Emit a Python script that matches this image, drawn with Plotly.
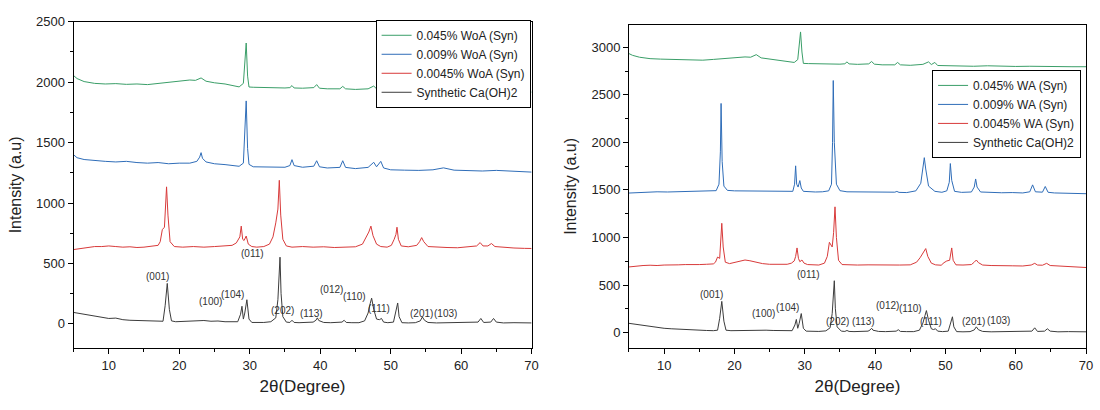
import plotly.graph_objects as go

# ---------------- LEFT PANEL (WoA) ----------------
L_black_x = [5, 6, 7, 8, 9, 10, 11, 12, 13, 14, 15, 16, 17, 17.7, 18.0, 18.3, 18.6, 18.9, 19.5, 20.5, 21.5, 22.5, 23.5,
             24.5, 25.5, 26.5, 27.5, 28.3, 28.7, 28.9, 29.1, 29.3, 29.6, 29.9, 30.3, 31, 32, 33, 33.7, 34.0, 34.15, 34.3,
             34.45, 34.7, 35.2, 35.7, 36.0, 36.3, 37, 38, 39, 39.4, 39.6, 39.8, 40.5, 41.5, 42.5, 43.1, 43.4, 43.7, 44.5,
             45.5, 46.3, 46.8, 47.1, 47.3, 47.6, 48.0, 48.4, 48.7, 49.0, 49.6, 50.4, 50.8, 51.0, 51.2, 51.6, 52.5, 53.5,
             54.2, 54.5, 54.8, 55.3, 56.5, 58, 59.5, 61, 62.4, 62.8, 63.2, 64.2, 64.6, 65.0, 66, 67.5, 69, 70]
L_black_y = [95, 85, 70, 60, 55, 45, 48, 35, 30, 28, 25, 20, 18, 22, 150, 335, 120, 25, 18, 20, 22, 25, 28,
             22, 24, 18, 15, 18, 80, 146, 40, 90, 200, 40, 12, 10, 12, 18, 50, 200, 400, 552,
             250, 60, 15, 12, 30, 12, 10, 12, 15, 30, 50, 28, 12, 10, 10, 15, 30, 12, 10,
             10, 25, 90, 170, 213, 120, 40, 35, 45, 15, 10, 15, 110, 173, 60, 10, 8, 10,
             25, 57, 30, 12, 8, 10, 8, 8, 15, 45, 12, 15, 45, 15, 8, 10, 8, 8]

L_red_x = [5, 6, 7, 8, 9, 10, 11, 12, 13, 14, 15, 16, 17, 17.3, 17.6, 17.9, 18.05, 18.2, 18.4, 18.7, 19.3, 20.5, 22,
           23.5, 25, 26.5, 27.5, 28.1, 28.4, 28.6, 28.8, 29.0, 29.2, 29.5, 29.8, 30.3, 31, 32, 32.8, 33.3, 33.7, 34.0,
           34.2, 34.4, 34.7, 35.2, 36, 37.5, 39, 40.5, 42, 43.5, 45, 46.0, 46.6, 46.9, 47.2, 47.5, 48.0, 48.6, 49.5,
           50.1, 50.5, 50.75, 50.9, 51.1, 51.5, 52.5, 53.7, 54.1, 54.4, 54.7, 55.3, 56.5, 58, 59.5, 61, 62.2, 62.7,
           63.1, 63.8, 64.3, 64.8, 66, 67.5, 69, 70]
L_red_y = [615, 625, 630, 640, 640, 645, 640, 635, 638, 632, 635, 640, 650, 680, 780, 800, 950, 1134, 900, 680, 640, 635, 640,
           635, 640, 645, 650, 670, 700, 720, 809, 700, 690, 727, 660, 640, 635, 640, 660, 720, 836, 950,
           1188, 900, 700, 645, 635, 640, 635, 638, 632, 635, 638, 660, 730, 760, 809, 730, 660, 640, 635,
           650, 700, 740, 800, 700, 645, 638, 650, 680, 714, 680, 640, 635, 632, 630, 635, 645, 673,
           645, 645, 665, 640, 632, 628, 625, 624]

L_blue_x = [5, 5.5, 6.5, 8, 9.5, 11, 12.5, 14, 15.5, 17, 18.5, 20, 21.5, 22.5, 22.9, 23.1, 23.3, 23.8, 25, 26.5, 27.5,
            28.5, 29.1, 29.3, 29.5, 29.7, 29.9, 30.5, 32, 33.5, 35, 35.7, 36.0, 36.3, 37.5, 39.1, 39.5, 39.9, 41, 42.8,
            43.2, 43.6, 45, 46.8, 47.3, 47.6, 48.0, 48.3, 48.6, 49.0, 50, 52, 54, 56, 57.5, 59, 61, 63, 65, 67, 69, 70]
L_blue_y = [1400, 1375, 1360, 1350, 1345, 1340, 1345, 1335, 1330, 1335, 1325, 1330, 1330, 1345, 1380, 1417, 1370, 1340, 1325, 1318, 1310,
            1304, 1330, 1600, 1845, 1450, 1320, 1300, 1298, 1296, 1296, 1310, 1359, 1310, 1296, 1305, 1350, 1300, 1290, 1295,
            1350, 1295, 1285, 1295, 1320, 1337, 1300, 1320, 1345, 1290, 1275, 1272, 1270, 1275, 1291, 1272, 1268, 1265, 1270, 1262, 1258, 1256]

L_green_x = [5, 5.5, 6.5, 8, 9.5, 11, 12.5, 14, 15.5, 17, 18.5, 19.5, 20.5, 21.5, 22.3, 23.1, 23.8, 25, 26.5, 27.5, 28.5,
             29.1, 29.3, 29.5, 29.7, 29.9, 30.5, 32, 33.5, 35, 35.7, 36.0, 36.3, 37.5, 39.1, 39.5, 39.9, 41, 42.8, 43.2,
             43.6, 45, 46.8, 47.3, 47.6, 48.0, 48.3, 48.6, 49.0, 50, 52, 54, 56, 58, 60, 62, 64, 66, 68, 70]
L_green_y = [2055, 2030, 2005, 1990, 1985, 1988, 1982, 1985, 1980, 1990, 1995, 2002, 2008, 2018, 2015, 2035, 2008, 1995, 1985, 1970, 1961,
             1990, 2150, 2324, 2050, 1960, 1958, 1955, 1950, 1952, 1955, 1972, 1952, 1950, 1955, 1980, 1950, 1945, 1945, 1965,
             1945, 1940, 1945, 1960, 1968, 1945, 1955, 1965, 1935, 1930, 1928, 1925, 1928, 1925, 1922, 1925, 1920, 1922, 1918, 1918]

L_names = ["0.045% WoA (Syn)", "0.009% WoA (Syn)", "0.0045% WoA (Syn)", "Synthetic Ca(OH)2"]

L_labels = ["(001)", "(100)", "(104)", "(011)", "(202)", "(113)", "(012)", "(110)", "(111)", "(201)", "(103)"]
L_label_x = [16.9, 24.4, 27.5, 30.4, 34.7, 38.8, 41.6, 44.8, 48.4, 54.4, 57.8]
L_label_y = [390, 187, 243, 584, 113, 90, 284, 227, 130, 90, 90]

# ---------------- RIGHT PANEL (WA) ----------------
R_black_x = [5, 6, 7, 8, 9, 10, 11, 12, 13, 14, 15, 16, 17, 17.6, 17.9, 18.2, 18.5, 18.8, 19.5, 20.5, 21.5, 22.5, 23.5,
             24.5, 25.5, 26.5, 27.5, 28.2, 28.6, 28.8, 29.0, 29.2, 29.5, 29.8, 30.2, 31, 32, 33, 33.6, 33.9, 34.05, 34.2,
             34.35, 34.6, 35.2, 35.7, 36.0, 36.3, 37, 38, 39, 39.3, 39.5, 39.7, 40.5, 41.5, 42.5, 43.0, 43.3, 43.6, 44.5,
             45.5, 46.3, 46.8, 47.1, 47.3, 47.6, 48.0, 48.3, 48.6, 48.9, 49.6, 50.4, 50.8, 51.0, 51.2, 51.6, 52.5, 53.5,
             54.1, 54.4, 54.7, 55.3, 56.5, 58, 59.5, 61, 62.3, 62.7, 63.1, 64.1, 64.5, 64.9, 66, 67.5, 69, 70]
R_black_y = [97, 85, 75, 65, 55, 45, 40, 35, 32, 28, 25, 22, 20, 25, 150, 328, 120, 25, 20, 22, 25, 28, 30,
             25, 22, 20, 18, 20, 80, 138, 45, 95, 200, 45, 15, 12, 12, 18, 50, 200, 400, 545,
             250, 60, 15, 12, 22, 12, 10, 12, 15, 28, 45, 25, 12, 10, 10, 15, 30, 12, 10,
             10, 25, 100, 180, 231, 130, 40, 32, 40, 15, 10, 15, 110, 166, 60, 10, 8, 10,
             28, 60, 30, 12, 8, 10, 8, 8, 15, 50, 12, 15, 40, 15, 8, 10, 8, 8]

R_red_x = [5, 6, 7, 8, 9, 10, 11, 12, 13, 14, 15, 16, 17, 17.3, 17.6, 17.9, 18.05, 18.2, 18.4, 18.7, 19.3, 20.2, 21.0,
           21.5, 22.2, 23.0, 24, 25, 26.5, 27.5, 28.1, 28.5, 28.7, 28.9, 29.1, 29.3, 29.6, 29.9, 30.4, 31, 32, 32.8,
           33.2, 33.5, 33.9, 34.1, 34.3, 34.5, 34.8, 35.3, 36, 37.5, 39, 40.5, 42, 43.5, 45, 45.9, 46.4, 46.8, 47.2,
           47.5, 48.0, 48.6, 49.4, 49.8, 50.2, 50.6, 50.9, 51.1, 51.5, 52.5, 53.7, 54.1, 54.4, 54.7, 55.3, 56.5, 58,
           59.5, 61, 62.2, 62.7, 63.1, 63.8, 64.4, 64.9, 66, 67.5, 69, 70]
R_red_y = [690, 700, 705, 708, 705, 710, 708, 712, 715, 712, 715, 718, 722, 740, 794, 780, 950, 1149, 900, 740, 725, 740, 758,
           763, 755, 740, 725, 718, 715, 718, 730, 753, 800, 890, 780, 745, 763, 730, 715, 712, 710, 730,
           800, 949, 900, 1050, 1322, 1000, 760, 715, 712, 710, 712, 710, 708, 710, 712, 740, 787, 830, 883,
           800, 730, 712, 708, 735, 753, 760, 890, 760, 712, 710, 715, 740, 763, 735, 710, 705, 700,
           702, 700, 710, 728, 710, 708, 728, 705, 700, 695, 690, 684]

R_blue_x = [5, 6, 7.5, 9, 10.5, 12, 13.5, 15, 16.5, 17.4, 17.8, 18.0, 18.1, 18.25, 18.5, 19, 20, 21.5, 23, 24.5, 26, 27.5,
            28.3, 28.55, 28.7, 28.85, 29.05, 29.3, 29.5, 29.8, 30.5, 31.5, 32.5, 33.4, 33.8, 33.95, 34.05, 34.2, 34.5, 35,
            36, 37.5, 39, 40.5, 42, 42.8, 43.1, 43.4, 44.5, 45.8, 46.5, 46.85, 47.0, 47.2, 47.6, 48.5, 49.5, 50.2,
            50.55, 50.7, 50.9, 51.3, 52.3, 53.7, 54.1, 54.3, 54.5, 55, 56.5, 58, 59.5, 61, 62.0, 62.4, 62.8, 63.8, 64.2,
            64.6, 65.5, 67, 68.5, 70]
R_blue_y = [1467, 1470, 1478, 1480, 1478, 1482, 1486, 1484, 1488, 1492, 1560, 1900, 2409, 1800, 1540, 1495, 1490, 1488, 1492, 1485, 1484, 1480,
            1485, 1560, 1753, 1560, 1530, 1598, 1520, 1485, 1480, 1478, 1480, 1490, 1560, 2000, 2650, 2000, 1560, 1492,
            1480, 1478, 1475, 1478, 1474, 1476, 1484, 1474, 1472, 1490, 1570, 1740, 1839, 1720, 1540, 1485, 1475, 1490,
            1580, 1777, 1600, 1485, 1474, 1478, 1530, 1615, 1530, 1478, 1472, 1470, 1472, 1468, 1480, 1553, 1480, 1476, 1536,
            1475, 1468, 1465, 1462, 1460]

R_green_x = [5, 5.5, 6.5, 8, 9.5, 11, 12.5, 14, 15.5, 17, 18.5, 19.5, 20.5, 21.5, 22.3, 23.1, 23.8, 25, 26.5, 27.5, 28.5,
             29.0, 29.2, 29.4, 29.6, 29.8, 30.5, 32, 33.5, 35, 35.7, 36.0, 36.3, 37.5, 39.1, 39.5, 39.9, 41, 42.8, 43.2,
             43.6, 45, 46.8, 47.3, 47.6, 48.0, 48.3, 48.5, 48.9, 50, 52, 54, 56, 58, 60, 62, 64, 66, 68, 70]
R_green_y = [2933, 2915, 2895, 2880, 2875, 2872, 2868, 2866, 2864, 2872, 2880, 2888, 2892, 2898, 2895, 2922, 2888, 2875, 2865, 2855, 2840,
             2870, 3000, 3161, 2950, 2830, 2828, 2825, 2822, 2822, 2826, 2846, 2825, 2820, 2825, 2850, 2822, 2815, 2815, 2840,
             2815, 2810, 2820, 2835, 2846, 2818, 2830, 2840, 2808, 2805, 2805, 2800, 2805, 2800, 2798, 2800, 2796, 2798, 2795, 2795]

R_names = ["0.045% WA (Syn)", "0.009% WA (Syn)", "0.0045% WA (Syn)", "Synthetic Ca(OH)2"]

R_labels = ["(001)", "(100)", "(104)", "(011)", "(202)", "(113)", "(012)", "(110)", "(111)", "(201)", "(103)"]
R_label_x = [16.7, 24.1, 27.6, 30.6, 34.7, 38.4, 41.7, 45.0, 48.0, 54.0, 57.5]
R_label_y = [396, 200, 262, 614, 114, 114, 280, 248, 121, 121, 124]

colors = ["#3a9e68", "#2f6db8", "#d83a3a", "#3c3c3c"]
FONT = "Liberation Sans, Arial, sans-serif"

fig = go.Figure()

L_series = [(L_green_x, L_green_y), (L_blue_x, L_blue_y), (L_red_x, L_red_y), (L_black_x, L_black_y)]
for (xs, ys), name, c in zip(L_series, L_names, colors):
    fig.add_trace(go.Scatter(x=xs, y=ys, mode="lines", name=name, line=dict(color=c, width=1),
                             xaxis="x", yaxis="y", legend="legend"))

R_series = [(R_green_x, R_green_y), (R_blue_x, R_blue_y), (R_red_x, R_red_y), (R_black_x, R_black_y)]
for (xs, ys), name, c in zip(R_series, R_names, colors):
    fig.add_trace(go.Scatter(x=xs, y=ys, mode="lines", name=name, line=dict(color=c, width=1),
                             xaxis="x2", yaxis="y2", legend="legend2"))

annots = []
for t, x, y in zip(L_labels, L_label_x, L_label_y):
    annots.append(dict(text=t, x=x, y=y, xref="x", yref="y", showarrow=False,
                       font=dict(size=10, color="#333", family=FONT)))
for t, x, y in zip(R_labels, R_label_x, R_label_y):
    annots.append(dict(text=t, x=x, y=y, xref="x2", yref="y2", showarrow=False,
                       font=dict(size=10, color="#333", family=FONT)))

axis_common = dict(showline=True, linecolor="black", linewidth=1, mirror=True, ticks="outside",
                   ticklen=5, tickcolor="black", showgrid=False, zeroline=False,
                   tickfont=dict(size=13, color="#222", family=FONT))

legend_common = dict(xanchor="right", yanchor="top", bgcolor="white",
                     bordercolor="black", borderwidth=1, font=dict(size=12, family=FONT, color="#222"),
                     tracegroupgap=0, itemwidth=30)

fig.update_layout(
    width=1100, height=410,
    margin=dict(l=0, r=0, t=0, b=0),
    paper_bgcolor="white", plot_bgcolor="white",
    font=dict(family=FONT, color="#222"),
    xaxis=dict(domain=[74/1100, 535/1100], range=[5, 70], dtick=10, tick0=0, anchor="y",
               minor=dict(dtick=5, ticks="outside", ticklen=3, tickcolor="black"),
               title=dict(text="2θ(Degree)", font=dict(size=17, family=FONT, color="#222"), standoff=8),
               **axis_common),
    yaxis=dict(domain=[1 - 347/410, 1 - 15/410], range=[-200, 2500], dtick=500, anchor="x",
               minor=dict(dtick=250, ticks="outside", ticklen=3, tickcolor="black"),
               title=dict(text="Intensity (a.u)", font=dict(size=16, family=FONT, color="#222"), standoff=10),
               **axis_common),
    xaxis2=dict(domain=[633/1100, 1093/1100], range=[5, 70], dtick=10, tick0=0, anchor="y2",
                minor=dict(dtick=5, ticks="outside", ticklen=3, tickcolor="black"),
                title=dict(text="2θ(Degree)", font=dict(size=17, family=FONT, color="#222"), standoff=8),
                **axis_common),
    yaxis2=dict(domain=[1 - 347/410, 1 - 18/410], range=[-163, 3237], dtick=500, anchor="x2",
                minor=dict(dtick=250, ticks="outside", ticklen=3, tickcolor="black"),
                title=dict(text="Intensity (a.u)", font=dict(size=16, family=FONT, color="#222"), standoff=10),
                **axis_common),
    legend=dict(x=534/1100, y=1 - 13/410, **legend_common),
    legend2=dict(x=1088/1100, y=1 - 64/410, **legend_common),
    annotations=annots,
)

fig.write_html("out.html")
